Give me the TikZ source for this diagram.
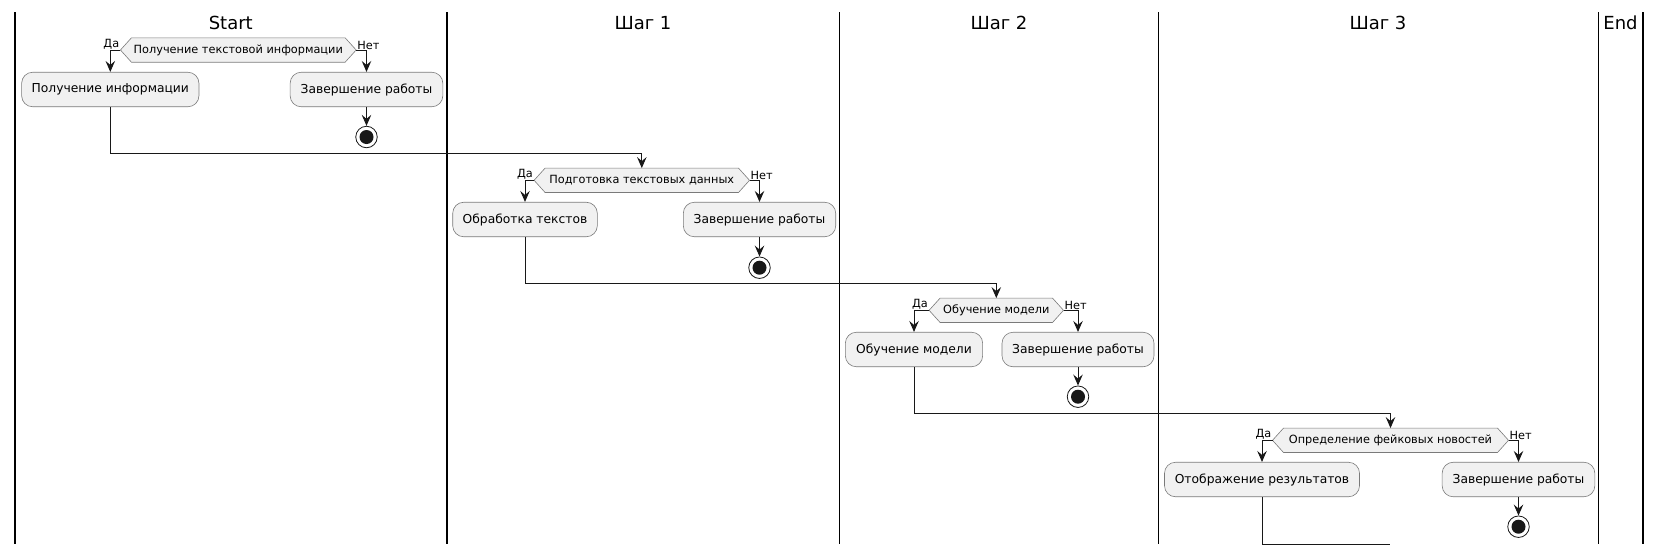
\documentclass[tikz,border=0pt]{standalone}
\usepackage{fontspec}
\setmainfont{DejaVu Sans}
\usetikzlibrary{arrows.meta,backgrounds}
\definecolor{boxfill}{HTML}{F1F1F1}
\definecolor{lineclr}{HTML}{181818}
\definecolor{boxborder}{HTML}{7A7A7A}
\begin{document}
\begin{tikzpicture}[x=1pt,y=-1pt,
 lane/.style={line width=1.6pt, draw=black},
 title/.style={font=\fontsize{18}{20}\selectfont, text=black, inner sep=0pt, anchor=base},
 act/.style={draw=boxborder, fill=boxfill, line width=0.6pt, rounded corners=11pt, minimum height=34.5pt, inner sep=0pt, font=\fontsize{12.3}{14}\selectfont},
 dtext/.style={inner sep=0pt, minimum height=24pt, font=\fontsize{11.3}{13}\selectfont},
 dshape/.style={draw=boxborder, fill=boxfill, line width=0.6pt},
 lbl/.style={inner sep=1pt, font=\fontsize{11.3}{13}\selectfont},
 flow/.style={draw=lineclr, line width=1pt, -{Stealth[length=11pt,width=9.5pt,inset=4pt]}},
 plain/.style={draw=lineclr, line width=1pt},
 stopnode/.style={circle, draw=lineclr, fill=white, line width=0.8pt, minimum size=21.5pt, inner sep=0pt,
   path picture={\fill[lineclr] (path picture bounding box.center) circle (7pt);}}
]
\useasboundingbox (0,0) rectangle (1662,555);
% lanes
\foreach \lx in {15,446.7,839.5,1158.3,1598.3,1642.7} \draw[lane] (\lx,12) -- (\lx,544);
% titles
\node[title] (t0) at (230.8,29.3) {Start};
\node[title] (t1) at (643,29.3) {Шаг 1};
\node[title] (t2) at (999,29.3) {Шаг 2};
\node[title] (t3) at (1378,29.3) {Шаг 3};
\node[title] (t4) at (1620.5,29.3) {End};
% decisions
\node[dtext, minimum width=213.3pt] (d1) at (238.3,50) {Получение текстовой информации};
\node[dtext, minimum width=193pt] (d2) at (641.8,180.3) {Подготовка текстовых данных};
\node[dtext, minimum width=112pt] (d3) at (996.3,310.3) {Обучение модели};
\node[dtext, minimum width=213.6pt] (d4) at (1390.5,440.3) {Определение фейковых новостей};
\foreach \d in {d1,d2,d3,d4} {
  \coordinate (\d l) at ([xshift=-11pt]\d.west);
  \coordinate (\d r) at ([xshift=11pt]\d.east);
}
\begin{pgfonlayer}{background}
\foreach \d in {d1,d2,d3,d4}
  \path[dshape] (\d l) -- (\d.north west) -- (\d.north east) -- (\d r) -- (\d.south east) -- (\d.south west) -- cycle;
\end{pgfonlayer}
% labels
\foreach \d in {d1,d2,d3,d4} {
  \node[lbl, anchor=south east] (\d da) at ([yshift=-0.5pt]\d l) {Да};
  \node[lbl, anchor=south west] (\d net) at ([yshift=-0.5pt]\d r) {Нет};
}
% activities
\node[act, minimum width=177.3pt] (b1) at (110.3,89.5) {Получение информации};
\node[act, minimum width=152.7pt] (b2) at (366.5,89.5) {Завершение работы};
\node[act, minimum width=144.6pt] (b3) at (525,219.5) {Обработка текстов};
\node[act, minimum width=152.4pt] (b4) at (759.5,219.5) {Завершение работы};
\node[act, minimum width=137.3pt] (b5) at (914,349.5) {Обучение модели};
\node[act, minimum width=152pt] (b6) at (1078,349.5) {Завершение работы};
\node[act, minimum width=195pt] (b7) at (1262,479.5) {Отображение результатов};
\node[act, minimum width=152.7pt] (b8) at (1518.5,479.5) {Завершение работы};
% stops
\node[stopnode] (s1) at (366.5,137) {};
\node[stopnode] (s2) at (759.5,267.7) {};
\node[stopnode] (s3) at (1078,396.7) {};
\node[stopnode] (s4) at (1518.5,526.7) {};
% join coordinates
\coordinate (j1) at (0,153.3);
\coordinate (j2) at (0,283.3);
\coordinate (j3) at (0,413.3);
\coordinate (e4) at (1390,544.3);
% flows
\draw[flow] (d1l) -| (b1.north);
\draw[flow] (d1r) -| (b2.north);
\draw[flow] (b2.south) -- (s1.north);
\draw[flow] (b1.south) -- (b1.south |- j1) -| (d2.north);
\draw[flow] (d2l) -| (b3.north);
\draw[flow] (d2r) -| (b4.north);
\draw[flow] (b4.south) -- (s2.north);
\draw[flow] (b3.south) -- (b3.south |- j2) -| (d3.north);
\draw[flow] (d3l) -| (b5.north);
\draw[flow] (d3r) -| (b6.north);
\draw[flow] (b6.south) -- (s3.north);
\draw[flow] (b5.south) -- (b5.south |- j3) -| (d4.north);
\draw[flow] (d4l) -| (b7.north);
\draw[flow] (d4r) -| (b8.north);
\draw[flow] (b8.south) -- (s4.north);
\draw[plain] (b7.south) |- (e4);
\end{tikzpicture}
\end{document}
